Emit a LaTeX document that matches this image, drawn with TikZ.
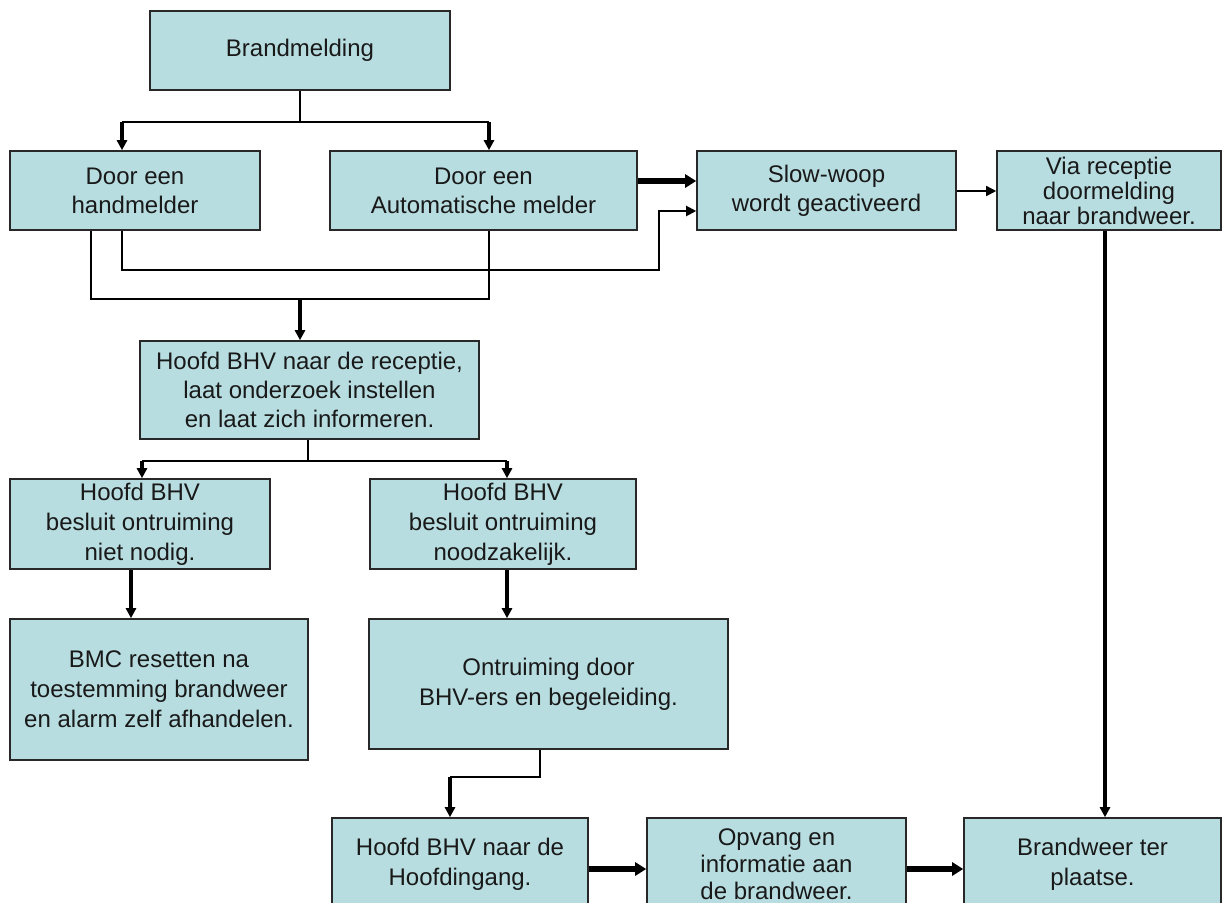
\documentclass[tikz,border=0pt]{standalone}
\usepackage{fontspec}
\setmainfont{Liberation Sans}
\usetikzlibrary{arrows.meta}
\definecolor{boxfill}{RGB}{183,221,224}
\definecolor{boxline}{RGB}{40,40,40}
\definecolor{txt}{RGB}{25,25,25}
\tikzset{
  box/.style={draw=boxline, fill=boxfill, line width=1.6pt, align=center, inner sep=0pt,
    text=txt, font=\fontsize{24}{29}\selectfont},
  tight/.style={font=\fontsize{24}{25}\selectfont},
  mid/.style={font=\fontsize{24}{27}\selectfont},
  wide/.style={font=\fontsize{24}{30}\selectfont},
  conn/.style={line width=2pt, draw=black},
  tip/.style={-{Triangle[length=10pt,width=10pt]}},
  arrthin/.style={conn, tip},
  arrmed/.style={line width=3.2pt, draw=black, tip},
  arrthick/.style={line width=5.5pt, draw=black, -{Triangle[length=11pt,width=13pt]}},
  arrfine/.style={line width=1.5pt, draw=black, tip},
}
\begin{document}
\begin{tikzpicture}[x=1pt,y=-1pt]
\useasboundingbox (0,0) rectangle (1223,902);
\clip (0,0) rectangle (1223,902);
\fill[white] (0,0) rectangle (1223,902);

% boxes
\node[box, minimum width=300, minimum height=79] (bm) at (300,50.5) {Brandmelding};
\node[box, minimum width=250, minimum height=79] (hand) at (135,190.5) {Door een\\handmelder};
\node[box, minimum width=307, minimum height=79] (auto) at (483.5,190.5) {Door een\\Automatische melder};
\node[box, minimum width=259, minimum height=79] (slow) at (826.5,190.5) {Slow-woop\\wordt geactiveerd};
\node[box, tight, minimum width=224, minimum height=79] (via) at (1109,190.5) {Via receptie\\doormelding\\naar brandweer.};
\node[box, minimum width=339, minimum height=98] (hr) at (309.5,390) {Hoofd BHV naar de receptie,\\laat onderzoek instellen\\en laat zich informeren.};
\node[box, wide, minimum width=260, minimum height=90] (nn) at (140,524) {Hoofd BHV\\besluit ontruiming\\niet nodig.};
\node[box, wide, minimum width=266, minimum height=90] (nz) at (503,524) {Hoofd BHV\\besluit ontruiming\\noodzakelijk.};
\node[box, wide, minimum width=298, minimum height=141] (bmc) at (159,689.5) {BMC resetten na\\toestemming brandweer\\en alarm zelf afhandelen.};
\node[box, wide, minimum width=359, minimum height=130] (ont) at (548.5,684) {Ontruiming door\\BHV-ers en begeleiding.};
\node[box, wide, minimum width=256, minimum height=92] (hi) at (460,864) {Hoofd BHV naar de\\Hoofdingang.};
\node[box, mid, minimum width=259, minimum height=92] (opv) at (776.5,864) {Opvang en\\informatie aan\\de brandweer.};
\node[box, wide, minimum width=257, minimum height=92] (bw) at (1092.5,864) {Brandweer ter\\plaatse.};

% junction coordinates
\coordinate (jA) at (300,122);
\coordinate (jH) at (122,122);
\coordinate (jAu) at (489,122);
\coordinate (jL) at (659,270);
\coordinate (jB) at (300,299);
\coordinate (jB2) at (489,299);
\coordinate (jR) at (308,461);
\coordinate (jN) at (142,461);
\coordinate (jZ) at (507,461);
\coordinate (jO) at (450,777);

% Brandmelding -> handmelder / automatische
\draw[conn] (bm.south) -- (jA);
\draw[conn] (jH) -- (jAu);
\draw[arrmed] (jH) -- (jH |- hand.north);
\draw[arrmed] (jAu) -- (jAu |- auto.north);

% automatische -> slow-woop (thick)
\draw[arrthick] (auto.east |- 0,181) -- (slow.west |- 0,181);

% handmelder -> slow-woop (thin loop)
\draw[arrthin] (hand.south -| jH) |- (jL) |- (slow.west |- 0,211);

% handmelder + automatische -> Hoofd BHV receptie
\draw[conn] (hand.south -| 91,0) |- (jB2) -- (auto.south -| jB2);
\draw[arrmed] (jB) -- (jB |- hr.north);

% slow-woop -> via receptie
\draw[arrfine] (slow.east |- 0,191) -- (via.west |- 0,191);

% via receptie -> brandweer ter plaatse
\draw[arrmed] (via.south -| 1105,0) -- (bw.north -| 1105,0);

% Hoofd BHV receptie -> two decisions
\draw[conn] (hr.south -| jR) -- (jR);
\draw[conn] (jN) -- (jZ);
\draw[arrmed] (jN) -- (jN |- nn.north);
\draw[arrmed] (jZ) -- (jZ |- nz.north);

% decisions -> next
\draw[arrmed] (nn.south -| 131,0) -- (bmc.north -| 131,0);
\draw[arrmed] (nz.south -| jZ) -- (ont.north -| jZ);

% ontruiming -> hoofdingang
\draw[conn] (ont.south -| 540,0) |- (jO);
\draw[arrmed, line width=4pt] (jO) -- (jO |- hi.north);

% bottom row
\draw[arrthick] (hi.east |- 0,869) -- (opv.west |- 0,869);
\draw[arrthick] (opv.east |- 0,869) -- (bw.west |- 0,869);
\end{tikzpicture}
\end{document}
